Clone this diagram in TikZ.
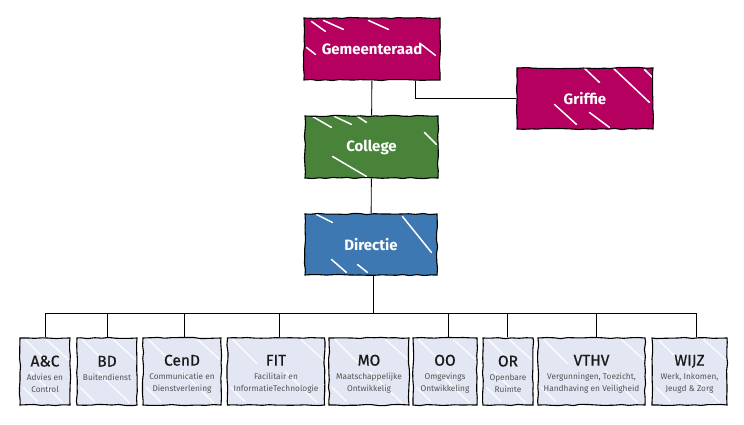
\documentclass[tikz,border=0pt]{standalone}
\usepackage{fontspec}
\setmainfont{Fira Sans}
\usetikzlibrary{decorations.pathmorphing,calc}
\definecolor{raadc}{RGB}{181,0,96}
\definecolor{collc}{RGB}{73,131,58}
\definecolor{dirc}{RGB}{62,120,178}
\definecolor{deptc}{RGB}{227,230,243}
\definecolor{subc}{RGB}{85,85,85}
\definecolor{titc}{RGB}{25,25,25}
\tikzset{
  sketch/.style={draw=black, line width=1.1pt, decorate, decoration={random steps, segment length=7pt, amplitude=0.6pt}},
  topbox/.style={sketch, text=white, inner sep=0pt, font=\fontsize{15}{16}\selectfont\bfseries},
  deptbox/.style={sketch, fill=deptc, inner sep=0pt, minimum height=67pt, align=center,
    path picture={
      \draw[dstreak] ($(path picture bounding box.north west)+(6,2)$) -- ($(path picture bounding box.north west)+(30,26)$);
      \draw[dstreak] ($(path picture bounding box.north east)+(-24,2)$) -- ($(path picture bounding box.north east)+(-2,22)$);
      \draw[dstreak] ($(path picture bounding box.south east)+(-40,-34)$) -- ($(path picture bounding box.south east)+(-8,-3)$);
      \draw[dstreak] ($(path picture bounding box.south west)+(4,-18)$) -- ($(path picture bounding box.south west)+(18,-4)$);
    }},
  streaks/.style={path picture={\foreach \a/\b/\c/\d in {#1} {\draw[streak] ($(path picture bounding box.north west)+(\a,\b)$) -- ($(path picture bounding box.north west)+(\c,\d)$);}}},
  conn/.style={draw=black, line width=0.9pt},
  streak/.style={white, line width=1.5pt, line cap=round},
  dstreak/.style={white, line width=1.4pt, line cap=round, opacity=0.85}
}
\newcommand\subf{\color{subc}\fontsize{8.3}{10}\selectfont}
\newcommand\dtxt[3]{\color{titc}\fontsize{15.5}{15}\selectfont\addfontfeature{FakeBold=0.6}\rule{0pt}{16pt}#1\\[2pt]\subf #2\\\subf #3}
\begin{document}
\begin{tikzpicture}[x=1pt,y=-1pt]
\useasboundingbox[fill=white] (0,0) rectangle (744,425);
% top boxes
\node[topbox, fill=raadc, minimum width=136pt, minimum height=62pt,
  streaks={8/4/22/14, 20/3/40/12, 65/3/85/12, 118/27/132/38, 3/30/12/37}] (raad) at (372,49) {Gemeenteraad};
\node[topbox, fill=raadc, minimum width=136pt, minimum height=61pt,
  streaks={66/-1/83/15, 96/0/133/35, 38/37/60/57, 73/45/93/60, 128/2/136/10}] (griffie) at (585,98.5) {Griffie};
\node[topbox, fill=collc, minimum width=133pt, minimum height=62pt,
  streaks={8/1/27/12, 30/1/47/9, 53/1/62/7, 120/17/132/29, 28/41/62/61}] (college) at (371.5,147) {College};
\node[topbox, fill=dirc, minimum width=132pt, minimum height=61pt,
  streaks={12/1/28/9, 98/3/127/39, 27/46/42/59, 53/51/63/59}] (directie) at (371,244.5) {Directie};
% department boxes
\node[deptbox, minimum width=50pt] (ac) at (45,371.5) {\dtxt{A\&C}{Advies en}{Control}};
\node[deptbox, minimum width=60pt] (bd) at (107,371.5) {\dtxt{BD}{Buitendienst}{\mbox{}}};
\node[deptbox, minimum width=78pt] (cend) at (182,371.5) {\dtxt{CenD}{Communicatie en}{Dienstverlening}};
\node[deptbox, minimum width=97pt] (fit) at (276,371.5) {\dtxt{FIT}{Facilitair en}{InformatieTechnologie}};
\node[deptbox, minimum width=80pt] (mo) at (369,371.5) {\dtxt{MO}{Maatschappelijke}{Ontwikkelig}};
\node[deptbox, minimum width=64pt] (oo) at (445,371.5) {\dtxt{OO}{Omgevings}{Ontwikkeling}};
\node[deptbox, minimum width=50pt] (or) at (508,371.5) {\dtxt{OR}{Openbare}{Ruimte}};
\node[deptbox, minimum width=107pt] (vthv) at (591.5,371.5) {\dtxt{VTHV}{Vergunningen, Toezicht,}{Handhaving en Veiligheid}};
\node[deptbox, minimum width=75pt] (wijz) at (689.5,371.5) {\dtxt{WIJZ}{Werk, Inkomen,}{Jeugd \& Zorg}};
% connectors
\coordinate (busL) at (45,313);
\coordinate (busR) at (696,313);
\coordinate (busM) at (373,313);
\draw[conn] (raad) -- (college);
\draw[conn] ([xshift=43pt]raad.south) |- (griffie.west);
\draw[conn] (college) -- (directie);
\draw[conn] ([xshift=2pt]directie.south) -- (busM);
\draw[conn] (busL) -- (busR);
\draw[conn] (ac.north) -- (ac.north |- busL);
\draw[conn] (bd.north) -- (bd.north |- busL);
\draw[conn] ([xshift=2pt]cend.north) -- ([xshift=2pt]cend.north |- busL);
\draw[conn] ([xshift=3pt]fit.north) -- ([xshift=3pt]fit.north |- busL);
\draw[conn] ([xshift=3pt]oo.north) -- ([xshift=3pt]oo.north |- busL);
\draw[conn] ([xshift=-1pt]or.north) -- ([xshift=-1pt]or.north |- busL);
\draw[conn] ([xshift=4.5pt]vthv.north) -- ([xshift=4.5pt]vthv.north |- busL);
\draw[conn] ([xshift=6.5pt]wijz.north) -- ([xshift=6.5pt]wijz.north |- busL);
\end{tikzpicture}
\end{document}
